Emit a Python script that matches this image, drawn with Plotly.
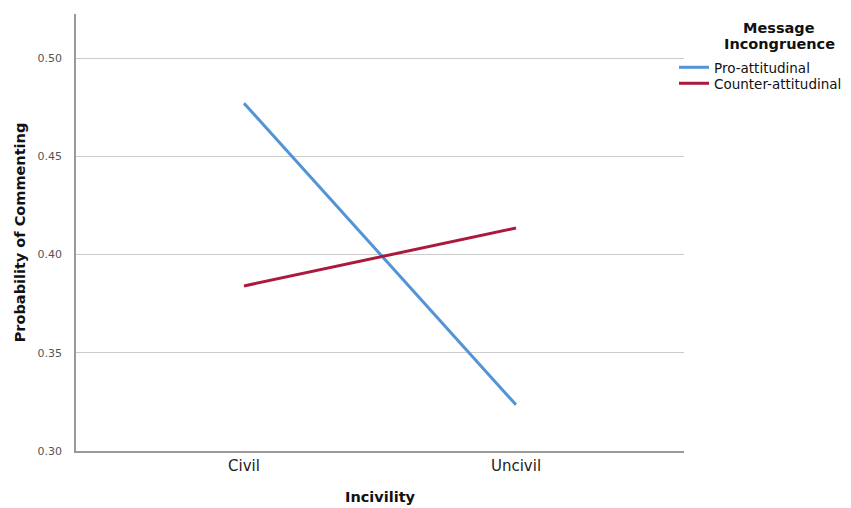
import plotly.graph_objects as go

categories = ["Civil", "Uncivil"]
pro_attitudinal = [0.477, 0.3235]
counter_attitudinal = [0.384, 0.4135]
y_ticks = [0.30, 0.35, 0.40, 0.45, 0.50]

FONT = "DejaVu Sans"
W, H = 851, 508

fig = go.Figure()
fig.add_trace(go.Scatter(x=[0, 1], y=pro_attitudinal, mode="lines", name="Pro-attitudinal",
                         line=dict(color="#5294d6", width=3), legend="legend"))
fig.add_trace(go.Scatter(x=[0, 1], y=counter_attitudinal, mode="lines", name="Counter-attitudinal",
                         line=dict(color="#ab1a3c", width=3), legend="legend2"))

fig.add_annotation(text="<b>Message</b>", xref="paper", yref="paper",
                   x=(779 - 76) / 608, y=(H - 28 - 57) / (H - 14 - 57),
                   xanchor="center", yanchor="middle", showarrow=False,
                   font=dict(family=FONT, size=14.5, color="#111"))
fig.add_annotation(text="<b>Incongruence</b>", xref="paper", yref="paper",
                   x=(779 - 76) / 608, y=(H - 44 - 57) / (H - 14 - 57),
                   xanchor="center", yanchor="middle", showarrow=False,
                   font=dict(family=FONT, size=14.5, color="#111"))

leg_common = dict(
    xref="container", yref="container", xanchor="left", yanchor="top",
    font=dict(family=FONT, size=13.5, color="#111"),
    itemwidth=30, bgcolor="rgba(0,0,0,0)",
)

fig.update_layout(
    width=W, height=H,
    margin=dict(l=76, r=167, t=14, b=57, autoexpand=False),
    paper_bgcolor="white", plot_bgcolor="white",
    font=dict(family=FONT, color="#222"),
    showlegend=True,
    legend=dict(x=674 / W, y=1 - 52 / H, **leg_common),
    legend2=dict(x=674 / W, y=1 - 68 / H, **leg_common),
    xaxis=dict(
        range=[-0.6176, 1.6176], automargin=False,
        tickmode="array", tickvals=[0, 1], ticktext=categories,
        tickfont=dict(size=15, color="#222"),
        showgrid=False, zeroline=False,
        showline=True, linecolor="#999", linewidth=1.5,
        ticks="", ticklen=0,
        title=dict(text="<b>Incivility</b>", font=dict(size=14.5, color="#111"), standoff=18),
    ),
    yaxis=dict(
        range=[0.30, 0.5224], automargin=False,
        tickmode="array", tickvals=y_ticks, ticktext=[f"{v:.2f}" for v in y_ticks],
        tickfont=dict(size=11, color="#555"),
        ticklabelstandoff=10,
        showgrid=True, gridcolor="#cccccc", gridwidth=1,
        zeroline=False,
        showline=True, linecolor="#999", linewidth=1.5,
        ticks="",
        title=dict(text="<b>Probability of Commenting</b>", font=dict(size=14.5, color="#111"), standoff=8),
    ),
)

fig.write_html("out.html", config={"displayModeBar": False},
               post_script="document.body.style.margin='0';")
